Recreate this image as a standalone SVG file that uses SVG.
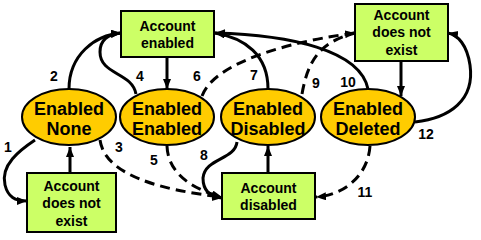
<svg xmlns="http://www.w3.org/2000/svg" width="481" height="240" viewBox="0 0 481 240">
<style>
.box{fill:#ccff66;stroke:#000;stroke-width:2}
.st{fill:#ffcc00;stroke:#000;stroke-width:2}
.bt{font-family:"Liberation Sans",Arial,sans-serif;font-weight:bold;font-size:14px;fill:#000;text-anchor:middle}
.et{font-family:"Liberation Sans",Arial,sans-serif;font-weight:bold;font-size:18px;fill:#000;text-anchor:middle}
.lb{font-family:"Liberation Sans",Arial,sans-serif;font-weight:bold;font-size:14px;fill:#000;text-anchor:middle}
.c{fill:none;stroke:#000;stroke-width:3}
.d{stroke-dasharray:10,6}
</style>
<defs>
<marker id="ah" markerUnits="userSpaceOnUse" markerWidth="12" markerHeight="10" refX="10" refY="4" orient="auto">
<path d="M0,0 L10,4 L0,8 z" fill="#000"/>
</marker>
</defs>
<rect width="481" height="240" fill="#fff"/>
<g id="connectors">
<path class="c" d="M35,140 C20,150 0,165 5,185 C8,197 15,201 27,201" marker-end="url(#ah)"/>
<path class="c" d="M70,173 L70,147" marker-end="url(#ah)"/>
<path class="c" d="M69,89 C69,55 95,35 121,33" marker-end="url(#ah)"/>
<path class="c" d="M136,94 C132,72 100,75 100,52 C100,38 110,34 121,33" marker-end="url(#ah)"/>
<path class="c" d="M167,57 L167,89" marker-end="url(#ah)"/>
<path class="c d" d="M202,96 C215,60 300,40 355,33" marker-end="url(#ah)"/>
<path class="c" d="M268,89 C268,55 245,38 215,33" marker-end="url(#ah)"/>
<path class="c d" d="M302,94 C308,60 320,42 355,33"/>
<path class="c" d="M368,89 C360,50 290,35 215,33" marker-end="url(#ah)"/>
<path class="c" d="M401,61 L401,96" marker-end="url(#ah)"/>
<path class="c" d="M415,122 C450,118 475,100 470,65 C467,45 458,35 448,33" marker-end="url(#ah)"/>
<path class="c d" d="M100,140 C105,175 160,190 222,197" marker-end="url(#ah)"/>
<path class="c d" d="M167,146 C168,175 195,190 222,197" marker-end="url(#ah)"/>
<path class="c" d="M237,142 C235,160 205,158 203,178 C203,192 212,197 222,198" marker-end="url(#ah)"/>
<path class="c" d="M268,173 L268,146" marker-end="url(#ah)"/>
<path class="c d" d="M370,146 C368,175 345,195 316,197" marker-end="url(#ah)"/>
<text class="lb" x="8" y="152">1</text>
<text class="lb" x="54" y="81">2</text>
<text class="lb" x="119" y="152">3</text>
<text class="lb" x="140" y="81">4</text>
<text class="lb" x="154" y="165">5</text>
<text class="lb" x="197" y="81">6</text>
<text class="lb" x="254" y="80">7</text>
<text class="lb" x="204" y="160">8</text>
<text class="lb" x="316" y="88">9</text>
<text class="lb" x="348" y="87">10</text>
<text class="lb" x="365" y="197">11</text>
<text class="lb" x="426" y="139">12</text>
</g>
<g id="acct-enabled">
<rect class="box" x="121" y="11" width="93" height="46"/>
<text class="bt" x="167.5" y="31">Account</text>
<text class="bt" x="167.5" y="48">enabled</text>
</g>
<g id="acct-notexist-top">
<rect class="box" x="355" y="4" width="93" height="57"/>
<text class="bt" x="401.5" y="20">Account</text>
<text class="bt" x="401.5" y="37">does not</text>
<text class="bt" x="401.5" y="55">exist</text>
</g>
<g id="acct-notexist-bottom">
<rect class="box" x="27" y="173" width="89" height="59"/>
<text class="bt" x="71.5" y="191">Account</text>
<text class="bt" x="71.5" y="208">does not</text>
<text class="bt" x="71.5" y="226">exist</text>
</g>
<g id="acct-disabled">
<rect class="box" x="222" y="173" width="93" height="46"/>
<text class="bt" x="268.5" y="193">Account</text>
<text class="bt" x="268.5" y="210">disabled</text>
</g>
<g id="en-none">
<ellipse class="st" cx="69" cy="117" rx="47" ry="28"/>
<text class="et" x="69" y="115">Enabled</text>
<text class="et" x="69" y="135">None</text>
</g>
<g id="en-enabled">
<ellipse class="st" cx="167" cy="117" rx="47" ry="28"/>
<text class="et" x="167" y="115">Enabled</text>
<text class="et" x="167" y="135">Enabled</text>
</g>
<g id="en-disabled">
<ellipse class="st" cx="268" cy="117" rx="47" ry="28"/>
<text class="et" x="268" y="115">Enabled</text>
<text class="et" x="268" y="135">Disabled</text>
</g>
<g id="en-deleted">
<ellipse class="st" cx="368" cy="117" rx="47" ry="28"/>
<text class="et" x="368" y="115">Enabled</text>
<text class="et" x="368" y="135">Deleted</text>
</g>
</svg>
